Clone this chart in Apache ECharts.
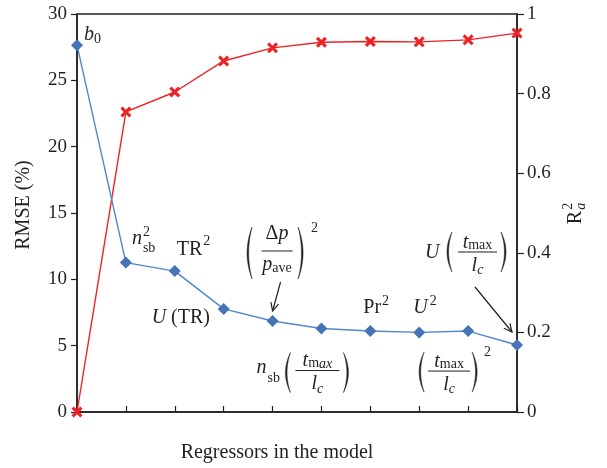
<!DOCTYPE html>
<html><head><meta charset="utf-8">
<script src="https://cdn.jsdelivr.net/npm/echarts@6/dist/echarts.min.js"></script>
<style>html,body{margin:0;padding:0;background:#fff}#c{width:607px;height:468px}</style>
</head><body><div id="c"></div>
<script>
// ---- data ----
const categories = ['b0', 'n_sb^2', 'TR^2', 'U (TR)', '(Δp/p_ave)^2', 'n_sb (t_max/l_c)', 'Pr^2', 'U^2', '(t_max/l_c)^2', 'U (t_max/l_c)'];
const rmse = [27.65, 11.26, 10.62, 7.77, 6.86, 6.29, 6.10, 6.00, 6.10, 5.05];
const r2a  = [0, 0.754, 0.804, 0.882, 0.915, 0.929, 0.931, 0.930, 0.935, 0.952];
const rmseAxis = {min: 0, max: 30, interval: 5};
const r2Axis = {min: 0, max: 1, interval: 0.2};

const INK = '#231f20';
const SERIF = '"Liberation Serif", "DejaVu Serif", serif';
const BLUE_LINE = '#4f86cc', BLUE_MK = '#4573b5', RED = '#ee2224';
const XMARK = 'path://M2,0 L5,3 L8,0 L10,2 L7,5 L10,8 L8,10 L5,7 L2,10 L0,8 L3,5 L0,2 Z';

const chart = echarts.init(document.getElementById('c'), null, {renderer: 'canvas'});
const axisLine = {show: true, onZero: false, lineStyle: {color: INK, width: 1.5}};
const tickLbl = {fontFamily: SERIF, fontSize: 19, color: INK};

chart.setOption({
  animation: false,
  grid: {left: 77, right: 90, top: 14, bottom: 55, show: true, borderColor: INK, borderWidth: 1.5, backgroundColor: 'transparent'},
  xAxis: {
    type: 'value', min: 0, max: categories.length - 1, interval: 1,
    axisLine: axisLine,
    axisTick: {show: true, inside: true, length: 6, lineStyle: {color: INK, width: 1.2}},
    axisLabel: {show: false}, splitLine: {show: false},
    name: 'Regressors in the model', nameLocation: 'middle', nameGap: 31,
    nameTextStyle: {fontFamily: SERIF, fontSize: 20, color: INK, padding: [0, 40, 0, 0]}
  },
  yAxis: [{
    type: 'value', position: 'left', min: rmseAxis.min, max: rmseAxis.max, interval: rmseAxis.interval,
    axisLine: axisLine,
    axisTick: {show: true, length: 6, lineStyle: {color: INK, width: 1.2}},
    axisLabel: Object.assign({margin: 10}, tickLbl), splitLine: {show: false},
    name: 'RMSE (%)', nameLocation: 'middle', nameGap: 43, nameRotate: 90,
    nameTextStyle: {fontFamily: SERIF, fontSize: 20, color: INK, padding: [0, 0, 0, 16]}
  }, {
    type: 'value', position: 'right', min: r2Axis.min, max: r2Axis.max, interval: r2Axis.interval,
    axisLine: axisLine,
    axisTick: {show: true, length: 7, lineStyle: {color: INK, width: 1.2}},
    axisLabel: Object.assign({margin: 10}, tickLbl), splitLine: {show: false}
  }],
  series: [{
    name: 'R2a', type: 'line', yAxisIndex: 1,
    data: r2a.map((v, i) => [i, v]),
    symbol: XMARK, symbolSize: 11,
    lineStyle: {color: RED, width: 1.4}, itemStyle: {color: RED}, z: 3
  }, {
    name: 'RMSE', type: 'line', yAxisIndex: 0,
    data: rmse.map((v, i) => [i, v]),
    symbol: 'diamond', symbolSize: 12,
    lineStyle: {color: BLUE_LINE, width: 1.4}, itemStyle: {color: BLUE_MK}, z: 4
  }]
});

// ---- annotation helpers ----
const cv = document.createElement('canvas').getContext('2d');
function font(size, it) { return (it ? 'italic ' : '') + size + 'px ' + SERIF; }
function tw(t, size, it) { cv.font = font(size, it); return cv.measureText(t).width; }
function txt(x, base, t, size, it) {
  return {type: 'text', x: x, y: base - 0.3375 * size, z: 20,
    style: {text: t, font: font(size, it), fill: INK, align: 'left', verticalAlign: 'middle'}};
}
function seqW(parts) {
  let w = 0, last = 0;
  parts.forEach(p => { const ww = tw(p.t, p.s || 20, p.it); if (p.stack) { w = last + Math.max(ww, w - last); } else { last = w; w += ww; } });
  return w;
}
function seq(x, base, parts, out) {
  let cx = x, prevX = x;
  parts.forEach(p => {
    const s = p.s || 20;
    const w = tw(p.t, s, p.it);
    const px = p.stack ? prevX : cx;
    out.push(txt(px + (p.dx || 0), base + (p.dy || 0), p.t, s, p.it));
    if (p.stack) { cx = Math.max(cx, px + w); }
    else { prevX = cx; cx = cx + w; }
  });
  return cx;
}
// crescent-shaped parenthesis (polygon sampled from two quadratic curves)
function paren(xEnd, xBulge, top, bot, out) {
  const mid = (top + bot) / 2;
  const dir = xBulge < xEnd ? 1 : -1;
  const c1 = 2 * xBulge - xEnd;
  const c2 = 2 * (xBulge + dir * 1.6) - xEnd;
  const pts = [];
  const N = 24;
  for (let k = 0; k <= N; k++) {
    const t = k / N, a = (1 - t) * (1 - t), b = 2 * t * (1 - t), c = t * t;
    pts.push([a * xEnd + b * c1 + c * xEnd, a * top + b * mid + c * bot]);
  }
  for (let k = N; k >= 0; k--) {
    const t = k / N, a = (1 - t) * (1 - t), b = 2 * t * (1 - t), c = t * t;
    pts.push([a * xEnd + b * c2 + c * xEnd, a * top + b * mid + c * bot]);
  }
  out.push({type: 'polygon', z: 20, shape: {points: pts}, style: {fill: INK, stroke: INK, lineWidth: 0.5}});
}
function hline(x1, x2, y, out) {
  out.push({type: 'line', z: 20, shape: {x1: x1, y1: y, x2: x2, y2: y}, style: {stroke: INK, lineWidth: 1}});
}
function arrow(x1, y1, x2, y2, out) {
  out.push({type: 'line', z: 20, shape: {x1: x1, y1: y1, x2: x2, y2: y2}, style: {stroke: INK, lineWidth: 1.2}});
  const a = Math.atan2(y2 - y1, x2 - x1), L = 9, sp = 0.45;
  out.push({type: 'polyline', z: 20, shape: {points: [
    [x2 - L * Math.cos(a - sp), y2 - L * Math.sin(a - sp)], [x2, y2],
    [x2 - L * Math.cos(a + sp), y2 - L * Math.sin(a + sp)]]},
    style: {stroke: INK, lineWidth: 1.2, fill: null}});
}
function frac(c, L, num, den, o, out) {
  const wn = seqW(num), wd = seqW(den);
  const hw = o.hw || Math.max(wn, wd) / 2 + 2;
  seq(c - wn / 2, L + o.nb, num, out);
  seq(c - wd / 2, L + o.db, den, out);
  hline(c - hw, c + hw, L, out);
  paren(o.pl + 5, o.pl, L + o.pt, L + o.pb, out);
  paren(o.pr - 5, o.pr, L + o.pt, L + o.pb, out);
}

function buildGraphics() {
  const P = rmse.map((v, i) => chart.convertToPixel({seriesIndex: 1}, [i, v]));
  const g = [];
  seq(P[0][0] + 7, P[0][1] - 4, [{t: 'b', it: true}, {t: '0', s: 14, dy: 3}], g);
  seq(P[1][0] + 6, P[1][1] - 17, [{t: 'n', it: true}, {t: '2', s: 14, dy: -9, dx: 1}, {t: 'sb', s: 14, dy: 7, stack: true, dx: 1}], g);
  seq(P[2][0] + 2, P[2][1] - 15, [{t: 'TR'}, {t: '2', s: 14, dy: -10, dx: 1}], g);
  seq(P[3][0] - 72, P[3][1] + 16, [{t: 'U', it: true}, {t: ' (TR)'}], g);
  {
    const c = P[4][0] + 4.5, L = P[4][1] - 70;
    frac(c, L, [{t: 'Δ'}, {t: 'p', it: true}], [{t: 'p', it: true}, {t: 'ave', s: 14, dy: 1}],
      {nb: -10, db: 21, hw: 15.5, pl: c - 30, pr: c + 26, pt: -24, pb: 28}, g);
    seq(c + 34, L - 18, [{t: '2', s: 14}], g);
    arrow(P[4][0] + 8, P[4][1] - 39, P[4][0], P[4][1] - 10, g);
  }
  const tmax = [{t: 't', it: true}, {t: 'm', s: 14, dy: 1}, {t: 'ax', s: 14, it: true, dy: 1}];
  const tmax2 = [{t: 't', it: true}, {t: 'max', s: 14, dy: 1}];
  const lc = [{t: 'l', it: true}, {t: 'c', s: 14, it: true, dy: 3}];
  {
    const c = P[5][0] - 4, L = P[5][1] + 42;
    seq(P[5][0] - 65, L + 4, [{t: 'n', it: true}, {t: 'sb', s: 14, dy: 9, dx: 1}], g);
    frac(c, L, tmax, lc, {nb: -3, db: 20, hw: 22, pl: c - 32, pr: c + 31, pt: -18, pb: 22}, g);
  }
  seq(P[6][0] - 7, P[6][1] - 17, [{t: 'Pr'}, {t: '2', s: 14, dy: -8, dx: 1}], g);
  seq(P[7][0] - 6, P[7][1] - 18, [{t: 'U', it: true}, {t: '2', s: 14, dy: -8, dx: 2}], g);
  {
    const c = P[8][0] - 19, L = P[8][1] + 40;
    frac(c, L, tmax2, lc, {nb: -3, db: 20, hw: 21, pl: c - 30, pr: c + 28, pt: -19, pb: 21}, g);
    seq(c + 35, L - 14, [{t: '2', s: 14}], g);
  }
  {
    const c = P[9][0] - 39.5, L = P[9][1] - 93;
    seq(c - 52.5, L + 7, [{t: 'U', it: true}], g);
    frac(c, L, tmax2, lc, {nb: -3, db: 20, hw: 19.5, pl: c - 30.5, pr: c + 28.5, pt: -20, pb: 20}, g);
    arrow(P[9][0] - 42, P[9][1] - 58, P[9][0] - 5, P[9][1] - 13, g);
  }
  {
    const kids = [];
    const w = tw('R', 20, false) + 9;
    seq(-w / 2, 6, [{t: 'R'}, {t: '2', s: 14, dy: -9, dx: 1}, {t: 'a', s: 14, it: true, dy: 4, stack: true, dx: 1}], kids);
    const cy = chart.convertToPixel({yAxisIndex: 1}, 0.5);
    g.push({type: 'group', x: 576, y: cy, rotation: Math.PI / 2, children: kids});
  }
  chart.setOption({graphic: {elements: g}});
}
buildGraphics();
</script>
</body></html>
